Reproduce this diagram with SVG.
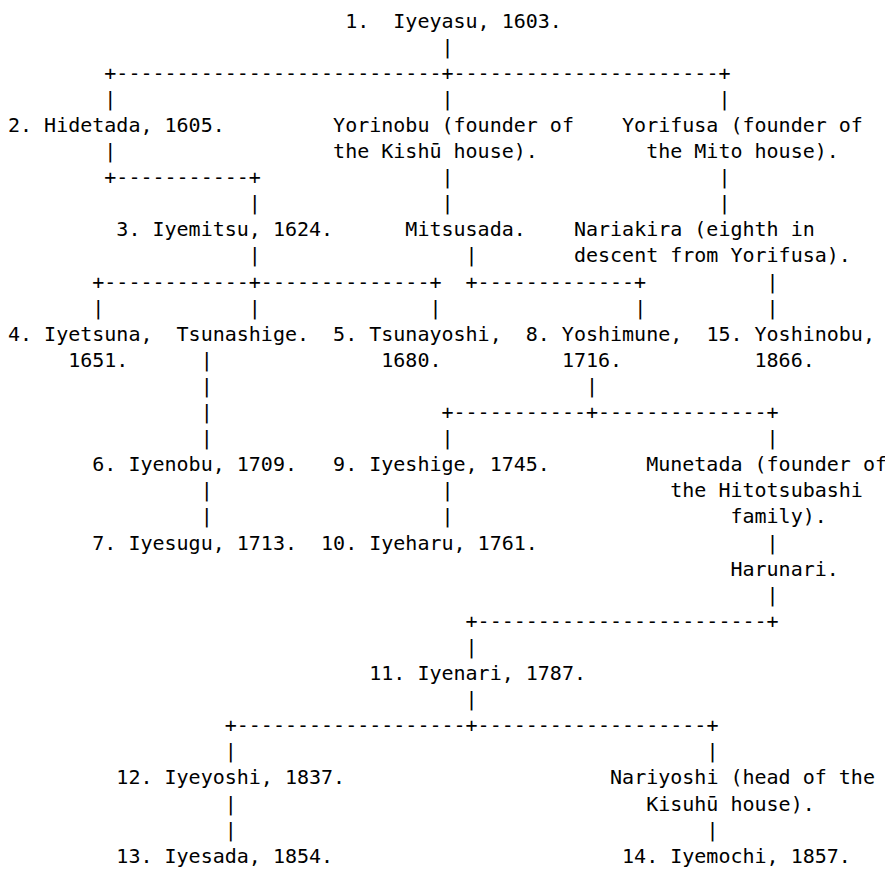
<svg xmlns="http://www.w3.org/2000/svg" width="885" height="869" viewBox="0 0 885 869" xml:space="preserve">
<style>
text { font-family: "DejaVu Sans Mono", "Liberation Mono", monospace; font-size: 20px; fill: #000; white-space: pre; }
</style>
<rect x="0" y="0" width="885" height="869" fill="#fff"/>
<g id="connectors">
<text x="441.48" y="53.6">|</text>
<text x="104.33" y="79.7">+---------------------------+----------------------+</text>
<text x="104.33" y="105.8">|</text><text x="441.48" y="105.8">|</text><text x="718.42" y="105.8">|</text>
<text x="104.33" y="158">|</text>
<text x="104.33" y="184.1">+-----------+</text><text x="441.48" y="184.1">|</text><text x="718.42" y="184.1">|</text>
<text x="248.82" y="210.2">|</text><text x="441.48" y="210.2">|</text><text x="718.42" y="210.2">|</text>
<text x="248.82" y="262.4">|</text><text x="465.56" y="262.4">|</text>
<text x="92.29" y="288.5">+------------+--------------+</text><text x="465.56" y="288.5">+-------------+</text><text x="766.58" y="288.5">|</text>
<text x="92.29" y="314.6">|</text><text x="248.82" y="314.6">|</text><text x="429.44" y="314.6">|</text><text x="634.13" y="314.6">|</text><text x="766.58" y="314.6">|</text>
<text x="200.66" y="366.8">|</text>
<text x="200.66" y="392.9">|</text><text x="585.97" y="392.9">|</text>
<text x="200.66" y="419">|</text><text x="441.48" y="419">+-----------+--------------+</text>
<text x="200.66" y="445.1">|</text><text x="441.48" y="445.1">|</text><text x="766.58" y="445.1">|</text>
<text x="200.66" y="497.3">|</text><text x="441.48" y="497.3">|</text>
<text x="200.66" y="523.4">|</text><text x="441.48" y="523.4">|</text>
<text x="766.58" y="549.5">|</text>
<text x="766.58" y="601.7">|</text>
<text x="465.56" y="627.8">+------------------------+</text>
<text x="465.56" y="653.9">|</text>
<text x="465.56" y="706.1">|</text>
<text x="224.74" y="732.2">+-------------------+-------------------+</text>
<text x="224.74" y="758.3">|</text><text x="706.38" y="758.3">|</text>
<text x="224.74" y="810.5">|</text>
<text x="224.74" y="836.6">|</text><text x="706.38" y="836.6">|</text>
</g>
<g id="n1"><text x="345.15" y="27.5">1.  Iyeyasu, 1603.</text></g>
<g id="n2"><text x="8" y="131.9">2. Hidetada, 1605.</text></g>
<g id="yorinobu"><text x="333.11" y="131.9">Yorinobu (founder of</text><text x="333.11" y="158">the Kishū house).</text></g>
<g id="yorifusa"><text x="622.09" y="131.9">Yorifusa (founder of</text><text x="646.17" y="158">the Mito house).</text></g>
<g id="n3"><text x="116.37" y="236.3">3. Iyemitsu, 1624.</text></g>
<g id="mitsusada"><text x="405.35" y="236.3">Mitsusada.</text></g>
<g id="nariakira"><text x="573.93" y="236.3">Nariakira (eighth in</text><text x="573.93" y="262.4">descent from Yorifusa).</text></g>
<g id="n4"><text x="8" y="340.7">4. Iyetsuna,</text><text x="68.21" y="366.8">1651.</text></g>
<g id="tsunashige"><text x="176.57" y="340.7">Tsunashige.</text></g>
<g id="n5"><text x="333.11" y="340.7">5. Tsunayoshi,</text><text x="381.27" y="366.8">1680.</text></g>
<g id="n8"><text x="525.76" y="340.7">8. Yoshimune,</text><text x="561.89" y="366.8">1716.</text></g>
<g id="n15"><text x="706.38" y="340.7">15. Yoshinobu,</text><text x="754.54" y="366.8">1866.</text></g>
<g id="n6"><text x="92.29" y="471.2">6. Iyenobu, 1709.</text></g>
<g id="n9"><text x="333.11" y="471.2">9. Iyeshige, 1745.</text></g>
<g id="munetada"><text x="646.17" y="471.2">Munetada (founder of</text><text x="670.26" y="497.3">the Hitotsubashi</text><text x="730.46" y="523.4">family).</text></g>
<g id="n7"><text x="92.29" y="549.5">7. Iyesugu, 1713.</text></g>
<g id="n10"><text x="321.07" y="549.5">10. Iyeharu, 1761.</text></g>
<g id="harunari"><text x="730.46" y="575.6">Harunari.</text></g>
<g id="n11"><text x="369.23" y="680">11. Iyenari, 1787.</text></g>
<g id="n12"><text x="116.37" y="784.4">12. Iyeyoshi, 1837.</text></g>
<g id="nariyoshi"><text x="610.05" y="784.4">Nariyoshi (head of the</text><text x="646.17" y="810.5">Kisuhū house).</text></g>
<g id="n13"><text x="116.37" y="862.7">13. Iyesada, 1854.</text></g>
<g id="n14"><text x="622.09" y="862.7">14. Iyemochi, 1857.</text></g>
</svg>
